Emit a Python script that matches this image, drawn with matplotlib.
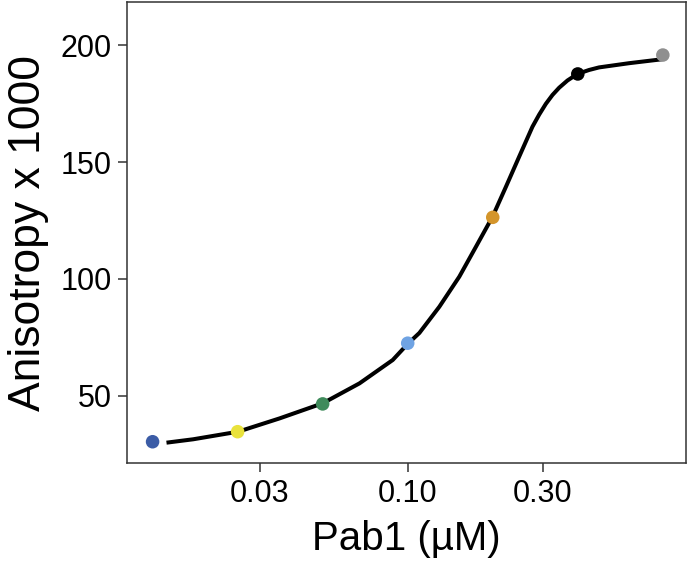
import matplotlib
matplotlib.use("Agg")
import matplotlib.pyplot as plt
import numpy as np

plt.rcParams['font.family'] = ['Liberation Sans', 'DejaVu Sans']

# measured points (Pab1 in uM, anisotropy x 1000)
pab1 = [0.0125, 0.025, 0.05, 0.1, 0.2, 0.4, 0.8]
aniso = [30.3, 34.6, 46.5, 72.5, 126.4, 187.8, 195.9]
point_colors = ['#3B5CA6', '#E9E23C', '#3F8B5B', '#6FA3E3', '#D4952B', '#000000', '#8F8F8F']

# fitted curve
fit_x = [0.0140, 0.0174, 0.0251, 0.0352, 0.0501, 0.0675, 0.0885, 0.100, 0.110,
         0.1294, 0.1523, 0.1744, 0.1997, 0.2227, 0.2481, 0.2764, 0.2920, 0.3083,
         0.3254, 0.3436, 0.3677, 0.3988, 0.4385, 0.4757, 0.6073, 0.7962]
fit_y = [29.9, 31.35, 34.6, 40.3, 46.8, 55.3, 65.3, 72.2, 76.9,
         88.1, 101.0, 113.8, 126.7, 139.5, 152.4, 165.2, 170.4, 175.0,
         178.8, 181.9, 185.0, 187.8, 189.5, 190.6, 192.4, 194.1]

xticks = [0.03, 0.10, 0.30]
xticklabels = ['0.03', '0.10', '0.30']
yticks = [50, 100, 150, 200]

fig = plt.figure(figsize=(6.92, 5.66), dpi=100)
ax = fig.add_axes([0.1842, 0.182, 0.8071, 0.8136])

ax.plot(fit_x, fit_y, color='black', lw=2.9, solid_capstyle='butt',
        solid_joinstyle='round', zorder=2)
ax.scatter(pab1, aniso, s=95, c=point_colors, edgecolors='none', zorder=3)

ax.set_xscale('log')
ax.set_xlim(10 ** -1.992, 10 ** -0.015)
ax.set_ylim(21.2, 218.4)
ax.set_xticks(xticks)
ax.set_xticklabels(xticklabels)
ax.xaxis.set_minor_locator(matplotlib.ticker.NullLocator())
ax.set_yticks(yticks)

for s in ax.spines.values():
    s.set_color('#333333')
    s.set_linewidth(1.1)
ax.tick_params(axis='both', length=6.5, width=1.1, color='#333333',
               labelsize=22, labelcolor='black', pad=5)

ax.set_xlabel('Pab1 (µM)', fontsize=29, labelpad=8)
ax.set_ylabel('Anisotropy x 1000', fontsize=32, labelpad=8)

fig.savefig('out.png', dpi=100)
